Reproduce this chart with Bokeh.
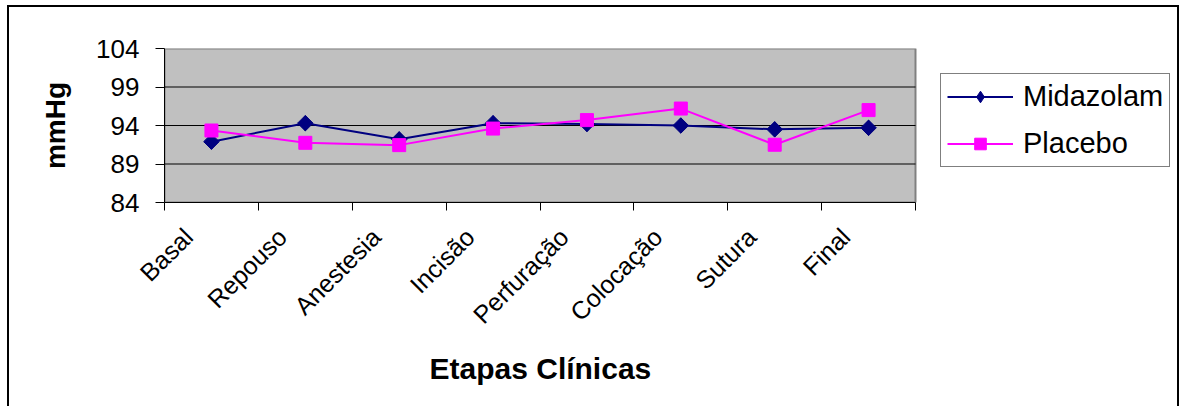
import math

from bokeh.embed import file_html
from bokeh.models import FixedTicker, Legend, LegendItem, Range1d, Title
from bokeh.plotting import figure
from bokeh.resources import INLINE

# Pressão arterial média (mmHg) por etapa clínica
categorias = ["Basal", "Repouso", "Anestesia", "Incisão", "Perfuração",
              "Colocação", "Sutura", "Final"]
midazolam = [91.9, 94.3, 92.2, 94.3, 94.2, 94.0, 93.5, 93.7]
placebo = [93.35, 91.75, 91.45, 93.6, 94.7, 96.2, 91.5, 96.0]
y_ticks = [84, 89, 94, 99, 104]

FONT = "Liberation Sans"
AZUL = "#000080"
MAGENTA = "#FF00FF"

n = len(categorias)
# each category occupies one unit on a numeric axis; points sit at its centre
x_centros = [i + 0.5 for i in range(n)]
limites = list(range(n + 1))
# slanted labels end a little left of the category centre
desvio_rotulo = 0.245
x_rotulos = [x - desvio_rotulo for x in x_centros]

# the frame runs on to the right edge so the legend can sit beside the
# plotting area; the grey area itself covers only the categories
LARG_AREA, LARG_FRAME = 751, 1015
x_fim = n * LARG_FRAME / LARG_AREA

p = figure(
    width=1172, height=401,
    x_range=Range1d(0, x_fim),
    y_range=Range1d(y_ticks[0], y_ticks[-1]),
    output_backend="svg", toolbar_location=None,
    min_border_left=155, min_border_right=2,
    min_border_top=41, min_border_bottom=206,
)
p.styles = {
    "border-left": "2px solid black",
    "border-top": "2px solid black",
    "border-right": "2px solid black",
    "margin-left": "7px",
    "margin-top": "5px",
}
p.background_fill_color = "white"
p.border_fill_color = "white"
p.outline_line_color = None
p.xgrid.visible = False
p.ygrid.visible = False

# plotting area and horizontal grid lines
p.quad(left=0, right=n, bottom=y_ticks[0], top=y_ticks[-1],
       fill_color="#C0C0C0", line_color="#808080", line_width=2)
p.segment(x0=[0] * (len(y_ticks) - 2), x1=[n] * (len(y_ticks) - 2),
          y0=y_ticks[1:-1], y1=y_ticks[1:-1], line_color="black", line_width=1)

# y axis
p.yaxis.ticker = FixedTicker(ticks=y_ticks)
p.yaxis.axis_line_color = "black"
p.yaxis.major_tick_out = 9
p.yaxis.major_tick_in = 0
p.yaxis.minor_tick_line_color = None
p.yaxis.major_label_text_font = FONT
p.yaxis.major_label_text_font_size = "26px"
p.yaxis.major_label_text_color = "black"
p.yaxis.major_label_standoff = 16
p.yaxis.axis_label = "mmHg"
p.yaxis.axis_label_text_font = FONT
p.yaxis.axis_label_text_font_size = "28px"
p.yaxis.axis_label_text_font_style = "bold"
p.yaxis.axis_label_text_color = "black"
p.yaxis.axis_label_standoff = 22

# x axis: labels near category centres, tick marks at category boundaries
p.xaxis.bounds = (0, n)
p.xaxis.ticker = FixedTicker(ticks=x_rotulos, minor_ticks=limites)
p.xaxis.major_label_overrides = {x: c for x, c in zip(x_rotulos, categorias)}
p.xaxis.major_label_orientation = math.pi / 4
p.xaxis.axis_line_color = "black"
p.xaxis.major_tick_out = 0
p.xaxis.major_tick_in = 0
p.xaxis.minor_tick_out = 8
p.xaxis.minor_tick_in = 0
p.xaxis.minor_tick_line_color = "black"
p.xaxis.major_label_text_font = FONT
p.xaxis.major_label_text_font_size = "25px"
p.xaxis.major_label_text_color = "black"
p.xaxis.major_label_standoff = 22

# x axis title, centred under the grey area rather than the whole frame
p.add_layout(
    Title(text="Etapas Clínicas", align="left", offset=265, standoff=16,
          text_font=FONT, text_font_size="30px", text_font_style="bold",
          text_color="black"),
    "below",
)

# series
l_mid = p.line(x_centros, midazolam, line_color=AZUL, line_width=2)
# plain diamond tucked under the wider marker; it supplies the legend icon
d_mid = p.scatter(x_centros, midazolam, marker="diamond", size=15,
                  fill_color=AZUL, line_color=AZUL)
p.scatter(x_centros, midazolam, marker="square", angle=math.pi / 4,
          size=11, fill_color=AZUL, line_color=AZUL)
l_pla = p.line(x_centros, placebo, line_color=MAGENTA, line_width=2)
m_pla = p.scatter(x_centros, placebo, marker="square", size=13,
                  fill_color=MAGENTA, line_color=MAGENTA)

legend = Legend(
    items=[
        LegendItem(label="Midazolam", renderers=[l_mid, d_mid]),
        LegendItem(label="Placebo", renderers=[l_pla, m_pla]),
    ],
    location=(776, 35),
    orientation="vertical",
    margin=0,
    padding=6,
    spacing=14,
    glyph_width=66,
    glyph_height=29,
    label_height=29,
    label_standoff=10,
    label_text_font=FONT,
    label_text_font_size="29px",
    label_text_color="black",
    border_line_color="black",
    border_line_width=1,
    background_fill_color="white",
    background_fill_alpha=1.0,
)
p.add_layout(legend)

open("out.html", "w").write(file_html(p, INLINE))
